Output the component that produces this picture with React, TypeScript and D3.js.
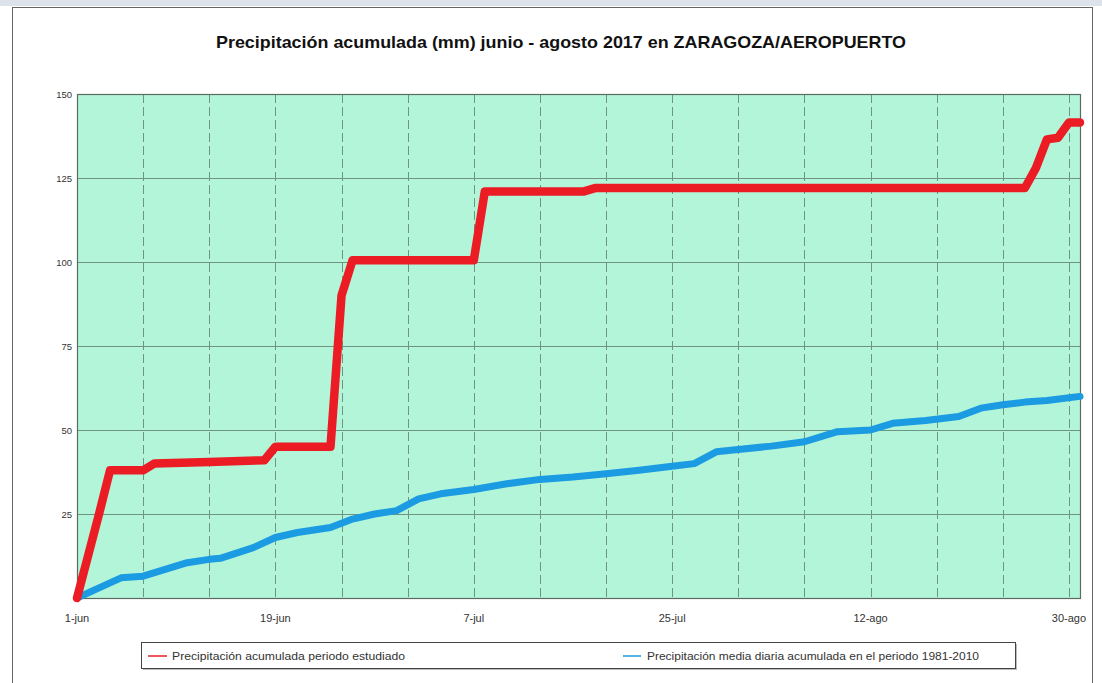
import * as React from "react";
import * as d3 from "d3";

// day offset from 1-jun-2017 and accumulated mm
const obsDays = [0, 1, 2, 3, 6, 7, 12, 17, 18, 23, 24, 25, 36, 37, 46, 47, 86, 87, 88, 89, 90, 91];
const obsValues = [0, 12.5, 25, 38, 38, 40, 40.5, 41, 45, 45, 90, 100.5, 100.5, 121, 121, 122, 122, 128, 136.5, 137, 141.5, 141.5];

const normDays = [0, 2, 4, 6, 8, 10, 12, 13, 16, 18, 20, 23, 25, 27, 29, 31, 33, 36, 39, 42, 45, 48, 51, 54, 56, 58, 60, 63, 66, 69, 72, 74, 77, 80, 82, 84, 86, 88, 91];
const normValues = [0, 3, 6, 6.5, 8.5, 10.5, 11.5, 11.8, 15, 18, 19.5, 21, 23.5, 25, 26, 29.5, 31, 32.3, 34, 35.3, 36, 37, 38, 39.2, 40, 43.5, 44.2, 45.2, 46.5, 49.5, 50, 52, 52.8, 54, 56.5, 57.5, 58.3, 58.8, 60];

const labelDays = [0, 18, 36, 54, 72, 90];
const xLabels = ["1-jun", "19-jun", "7-jul", "25-jul", "12-ago", "30-ago"];
const yTicks = [0, 25, 50, 75, 100, 125, 150];

const legendLabels = [
  "Precipitación acumulada periodo estudiado",
  "Precipitación media diaria acumulada en el periodo 1981-2010",
];

const title = "Precipitación acumulada (mm) junio - agosto 2017 en ZARAGOZA/AEROPUERTO";

const W = 1102;
const H = 683;
const plot = { left: 77, top: 94, right: 1080, bottom: 598 };

const x = d3.scaleLinear().domain([0, 91]).range([plot.left, plot.right]);
const y = d3.scaleLinear().domain([0, 150]).range([plot.bottom, plot.top]);

const line = d3
  .line<[number, number]>()
  .x(d => x(d[0]))
  .y(d => y(d[1]));

const obsPath = line(obsDays.map((d, i) => [d, obsValues[i]]));
const normPath = line(normDays.map((d, i) => [d, normValues[i]]));

const gridDays = d3.range(6, 91, 6);
const font = "Arial, 'Liberation Sans', sans-serif";

export default function App() {
  return (
    <svg
      width={W}
      height={H}
      style={{ position: "absolute", left: 0, top: 0, background: "#fff" }}
    >
      <rect x={0} y={0} width={W} height={6} fill="#dde3ea" />
      <rect x={12.5} y={7.5} width={1080} height={680} fill="#fff" stroke="#666" />

      <text
        x={561}
        y={48}
        textAnchor="middle"
        fontFamily={font}
        fontWeight="bold"
        fontSize={17}
        textLength={690}
        lengthAdjust="spacingAndGlyphs"
        fill="#111"
      >
        {title}
      </text>

      <rect
        x={plot.left}
        y={plot.top}
        width={plot.right - plot.left}
        height={plot.bottom - plot.top}
        fill="#b3f5d9"
      />

      {yTicks.slice(1, -1).map(t => (
        <line
          key={"h" + t}
          x1={plot.left}
          x2={plot.right}
          y1={Math.round(y(t)) + 0.5}
          y2={Math.round(y(t)) + 0.5}
          stroke="#6f9482"
          strokeWidth={1}
        />
      ))}
      {gridDays.map(d => (
        <line
          key={"v" + d}
          x1={Math.round(x(d)) + 0.5}
          x2={Math.round(x(d)) + 0.5}
          y1={plot.top}
          y2={plot.bottom}
          stroke="#6f9482"
          strokeWidth={1}
          strokeDasharray="9,4"
        />
      ))}

      <rect
        x={plot.left + 0.5}
        y={plot.top + 0.5}
        width={plot.right - plot.left}
        height={plot.bottom - plot.top}
        fill="none"
        stroke="#5b6b62"
        strokeWidth={1.2}
      />

      {yTicks.map(t => (
        <text
          key={"yl" + t}
          x={plot.left - 5}
          y={y(t) + 3.5}
          textAnchor="end"
          fontFamily={font}
          fontSize={9.5}
          fill="#333"
        >
          {t === 0 ? "" : t}
        </text>
      ))}
      {labelDays.map((d, i) => (
        <text
          key={"xl" + d}
          x={x(d)}
          y={622}
          textAnchor="middle"
          fontFamily={font}
          fontSize={11}
          fill="#333"
        >
          {xLabels[i]}
        </text>
      ))}

      <path
        d={normPath}
        fill="none"
        stroke="#1b9be2"
        strokeWidth={7}
        strokeLinejoin="round"
        strokeLinecap="round"
      />
      <path
        d={obsPath}
        fill="none"
        stroke="#ec1c24"
        strokeWidth={8.5}
        strokeLinejoin="round"
        strokeLinecap="round"
      />

      <rect x={143} y={644} width={874} height={26} fill="#bbb" />
      <rect x={141.5} y={642.5} width={874} height={26} fill="#fff" stroke="#444" />
      <line x1={148} x2={167} y1={656} y2={656} stroke="#ec1c24" strokeWidth={1.5} />
      <text
        x={172}
        y={659.5}
        fontFamily={font}
        fontSize={11}
        textLength={233}
        lengthAdjust="spacingAndGlyphs"
        fill="#333"
      >
        {legendLabels[0]}
      </text>
      <line x1={623} x2={641} y1={656} y2={656} stroke="#1b9be2" strokeWidth={1.5} />
      <text
        x={647}
        y={659.5}
        fontFamily={font}
        fontSize={11}
        textLength={332}
        lengthAdjust="spacingAndGlyphs"
        fill="#333"
      >
        {legendLabels[1]}
      </text>
    </svg>
  );
}
